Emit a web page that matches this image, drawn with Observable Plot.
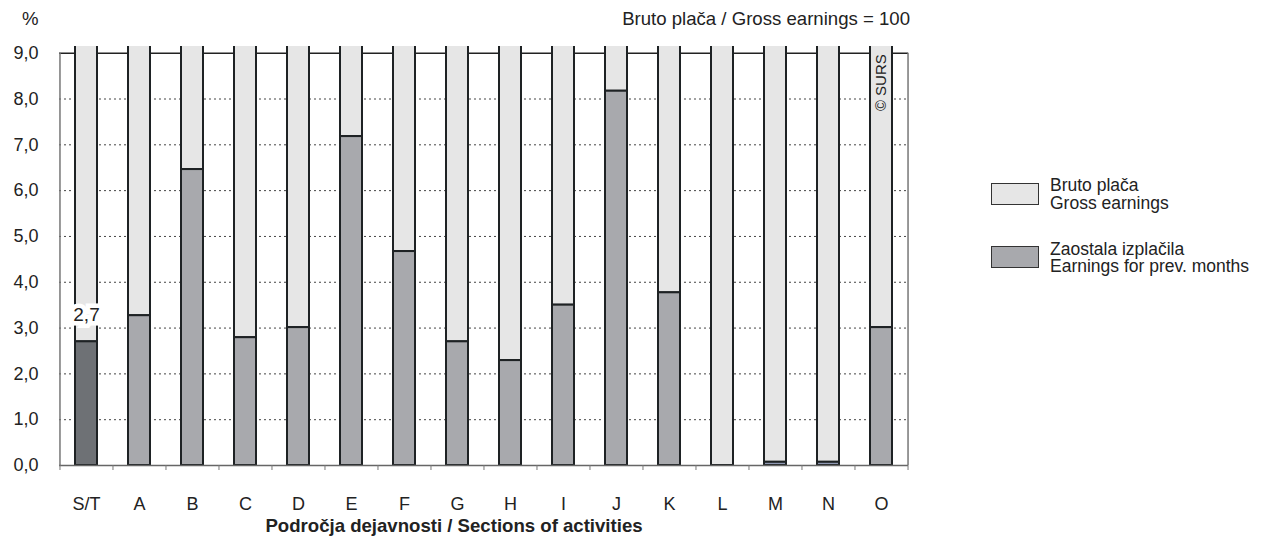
<!DOCTYPE html>
<html>
<head>
<meta charset="utf-8">
<script src="https://cdn.jsdelivr.net/npm/d3@7"></script>
<script src="https://cdn.jsdelivr.net/npm/@observablehq/plot@0.6"></script>
<style>
  html, body { margin: 0; padding: 0; background: #fff; }
  #wrap { position: relative; width: 1268px; height: 537px; font-family: "Liberation Sans", Arial, sans-serif; color: #222; }
  #chart { position: absolute; left: 0; top: 0; }
  .t { position: absolute; font-size: 18.6px; line-height: 18px; white-space: nowrap; }
  .lg { font-size: 17.5px; line-height: 17.5px; }
  .sw { position: absolute; width: 46px; height: 20px; border: 1.5px solid #333; }
</style>
</head>
<body>
<div id="wrap">
  <div id="chart"></div>
  <div class="t" style="left:22px; top:10px;">%</div>
  <div class="t" style="right:358px; top:10px;">Bruto plača / Gross earnings = 100</div>
  <div class="t" style="left:0; width:908px; top:517px; text-align:center; font-weight:bold;">Področja dejavnosti / Sections of activities</div>
  <div class="sw" style="left:991px; top:183px; background:#e6e6e6;"></div>
  <div class="t lg" style="left:1050px; top:177px;">Bruto plača<br>Gross earnings</div>
  <div class="sw" style="left:991px; top:246px; background:#a8a9ad;"></div>
  <div class="t lg" style="left:1050px; top:240.5px;">Zaostala izplačila<br>Earnings for prev. months</div>
</div>
<script>
// Data
const categories = ["S/T","A","B","C","D","E","F","G","H","I","J","K","L","M","N","O"];
const arrears = [2.70, 3.27, 6.46, 2.79, 3.01, 7.18, 4.67, 2.70, 2.29, 3.50, 8.17, 3.77, 0, 0.07, 0.07, 3.01];
const grossTotal = 100;
const yTicks = [0,1,2,3,4,5,6,7,8,9];
const copyright = "© SURS";

const rows = categories.map((c, i) => ({cat: c, v: arrears[i]}));

const W = 1268, H = 537;
const mL = 59, mR = 360, mT = 46, mB = 72;
const step = (W - mL - mR) / categories.length;
const fmt = d => d.toFixed(1).replace(".", ",");

const darkFill = d => d.cat === "S/T" ? "#6e7175" : (d.v < 0.1 ? "#8f98b2" : "#a8a9ad");

const chart = Plot.plot({
  width: W, height: H,
  marginLeft: mL, marginRight: mR, marginTop: mT, marginBottom: mB,
  style: {fontFamily: "'Liberation Sans', Arial, sans-serif", color: "#222", background: "#fff", overflow: "visible"},
  x: {type: "band", domain: categories, paddingInner: 0.58, paddingOuter: 0.29, align: 0.5},
  y: {domain: [0, 9 * 419 / 412.3]},
  color: {type: "identity"},
  marks: [
    Plot.ruleY(yTicks.filter(t => t > 0 && t < 9), {stroke: "#444", strokeWidth: 1, strokeDasharray: "2,3"}),
    Plot.ruleY([9], {stroke: "#222", strokeWidth: 1.5}),
    Plot.ruleX([categories[0]], {y1: 0, y2: 9, dx: -step / 2, stroke: "#777", strokeWidth: 1.5}),
    Plot.ruleX([categories[categories.length - 1]], {y1: 0, y2: 9, dx: step / 2, stroke: "#777", strokeWidth: 1.5}),
    Plot.barY(rows, {x: "cat", y1: "v", y2: () => grossTotal, fill: "#e6e6e6", stroke: "#1e2224", strokeWidth: 2, clip: true}),
    Plot.barY(rows.filter(d => d.v > 0), {x: "cat", y1: 0, y2: "v", fill: darkFill, stroke: "#1e2224", strokeWidth: 2}),
    Plot.ruleY([0], {stroke: "#666", strokeWidth: 1.5}),
    Plot.axisX({tickSize: 5, tickFormat: () => "", dx: -step / 2, stroke: "#777", label: null}),
    Plot.axisX([categories[categories.length - 1]], {tickSize: 5, tickFormat: () => "", dx: step / 2, stroke: "#777", label: null}),
    Plot.axisX({tickSize: 0, tickPadding: 32, fontSize: 18, label: null}),
    Plot.axisY(yTicks, {tickSize: 0, tickPadding: 21, tickFormat: fmt, fontSize: 18, label: null}),
    Plot.text([rows[0]], {x: "cat", y: "v", text: d => fmt(d.v), dy: -27, fontSize: 19, fill: "#222",
      stroke: "#fff", strokeWidth: 9, paintOrder: "stroke", strokeLinejoin: "miter"}),
    Plot.text([copyright], {x: () => categories[categories.length - 1], y: () => 9, text: d => d, rotate: -90,
      textAnchor: "end", dy: 1, fontSize: 15, fill: "#222"})
  ]
});
document.getElementById("chart").appendChild(chart);
</script>
</body>
</html>
